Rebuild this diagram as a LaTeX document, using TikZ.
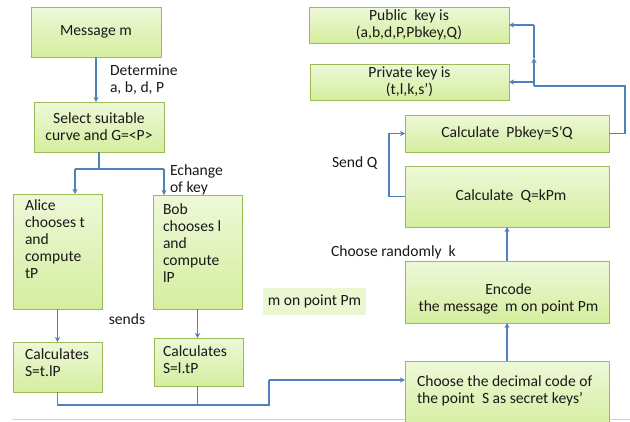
\documentclass[tikz,border=0pt]{standalone}
\usepackage{fontspec}
\setmainfont{Carlito}
\usetikzlibrary{arrows.meta}
\definecolor{bordc}{RGB}{155,187,89}
\definecolor{topc}{RGB}{238,248,216}
\definecolor{botc}{RGB}{212,238,158}
\definecolor{linec}{RGB}{79,129,189}
\definecolor{txtc}{RGB}{25,25,25}
\definecolor{labfill}{RGB}{234,247,208}
\tikzset{
  box/.style={draw=bordc, line width=0.9pt, top color=topc, bottom color=botc,
    inner sep=0pt, outer sep=0pt, align=center, text=txtc},
  txt/.style={inner sep=0pt, outer sep=0pt, text=txtc},
  conn/.style={draw=linec, line width=1.1pt},
  arr/.style={conn, -{Stealth[length=5pt,width=5pt,inset=1.5pt]}},
}
\begin{document}
\begin{tikzpicture}[x=1pt,y=-1pt,font=\fontsize{15.6}{17}\selectfont]
\fill[white] (0,0) rectangle (630,421);
\useasboundingbox (0,0) rectangle (630,421);
\clip (0,0) rectangle (630,421);
\draw[black!18, line width=0.8pt] (12,419.5) -- (630,419.5);

% left column boxes
\node[box, minimum width=130, minimum height=50] (msg) at (96,32) {Message m};
\node[box, minimum width=130, minimum height=50] (sel) at (99,127) {Select suitable\\curve and G=<P>};
\node[box, minimum width=89, minimum height=115] (alice) at (57.5,251.5) {};
\node[box, minimum width=89, minimum height=114] (bob) at (197.5,252) {};
\node[box, minimum width=89, minimum height=50] (calcA) at (57.5,367) {};
\node[box, minimum width=89, minimum height=48] (calcB) at (198.5,362) {};
\node[txt, anchor=west, align=left] (aliceT) at (25,239.5) {Alice\\chooses t\\and\\compute\\tP};
\node[txt, anchor=west, align=left] (bobT) at (163,243.5) {Bob\\chooses l\\and\\compute\\lP};
\node[txt, anchor=west, align=left] (calcAT) at (25,362.5) {Calculates\\S=t.lP};
\node[txt, anchor=west, align=left] (calcBT) at (163,359.5) {Calculates\\S=l.tP};

% right column boxes
\node[box, minimum width=200, minimum height=36] (pub) at (409,25) {Public\ \ key is\\(a,b,d,P,Pbkey,Q)};
\node[box, minimum width=199, minimum height=36] (priv) at (409.5,82) {Private key is\\(t,l,k,s’)};
\node[box, minimum width=204, minimum height=37] (pb) at (507,133.5) {Calculate\ \ Pbkey=S’Q};
\node[box, minimum width=204, minimum height=61] (q) at (507,196.5) {\hspace*{8pt}Calculate\ \ Q=kPm};
\node[box, minimum width=204, minimum height=62] (enc) at (507,292) {};
\node[txt, align=center] (encT) at (508.5,298.5) {Encode\\the message\ \ m on point Pm};
\node[box, minimum width=204, minimum height=69] (choose) at (507,395.5) {};
\node[txt, anchor=west, align=left] (chooseT) at (417,390.5) {Choose the decimal code of\\the point\ \ S as secret keys’};

% free labels
\node[txt, anchor=west, align=left] (detL) at (110,79.5) {Determine\\a, b, d, P};
\node[txt, anchor=west, align=left] (echL) at (170,179.5) {Echange\\of key};
\node[txt] (sendsL) at (127,319) {sends};
\node[txt, anchor=west] (sendQL) at (332,163) {Send Q};
\node[txt, anchor=west] (randL) at (331,252) {Choose randomly\ \ k};
\node[txt, fill=labfill, minimum width=103, minimum height=27] (mpL) at (314.5,301.5) {m on point Pm};

% coordinates
\coordinate (split) at (99,169);
\coordinate (aliceIn) at (75,194);
\coordinate (bobIn) at (164,195);
\coordinate (joinA) at (57.5,405);
\coordinate (joinR) at (269,405);
\coordinate (rise) at (269,380);
\coordinate (chooseIn) at (405,380);
\coordinate (sendX) at (389,196.5);
\coordinate (outR) at (625,133.5);
\coordinate (turn) at (534,86);
\coordinate (midUp) at (534,58);
\coordinate (topT) at (534,25);
\coordinate (privT) at (534,82);

% connectors
\draw[arr] (msg.south) -- (msg.south |- sel.north);
\draw[conn] (sel.south) -- (split);
\draw[conn] (aliceIn |- split) -- (bobIn |- split);
\draw[arr] (aliceIn |- split) -- (aliceIn);
\draw[arr] (bobIn |- split) -- (bobIn);
\draw[arr] (alice.south) -- (calcA.north);
\draw[arr] (bob.south) -- (bob.south |- calcB.north);
\draw[conn] (calcA.south) -- (joinA) -- (joinR) -- (rise);
\draw[arr] (rise) -- (chooseIn);
\draw[conn] (calcB.south -| bob.south) -- (bob.south |- joinA);
\draw[arr] (choose.north) -- (enc.south);
\draw[arr] (enc.north) -- (q.south);
\draw[conn] (q.west) -- (sendX);
\draw[arr] (sendX) |- (pb.west);
\draw[conn] (pb.east) -- (outR) |- (turn);
\draw[arr] (turn) -- (midUp);
\draw[conn] (midUp) -- (topT);
\draw[arr] (topT) -- (pub.east);
\draw[arr] (privT) -- (priv.east);
\end{tikzpicture}
\end{document}
